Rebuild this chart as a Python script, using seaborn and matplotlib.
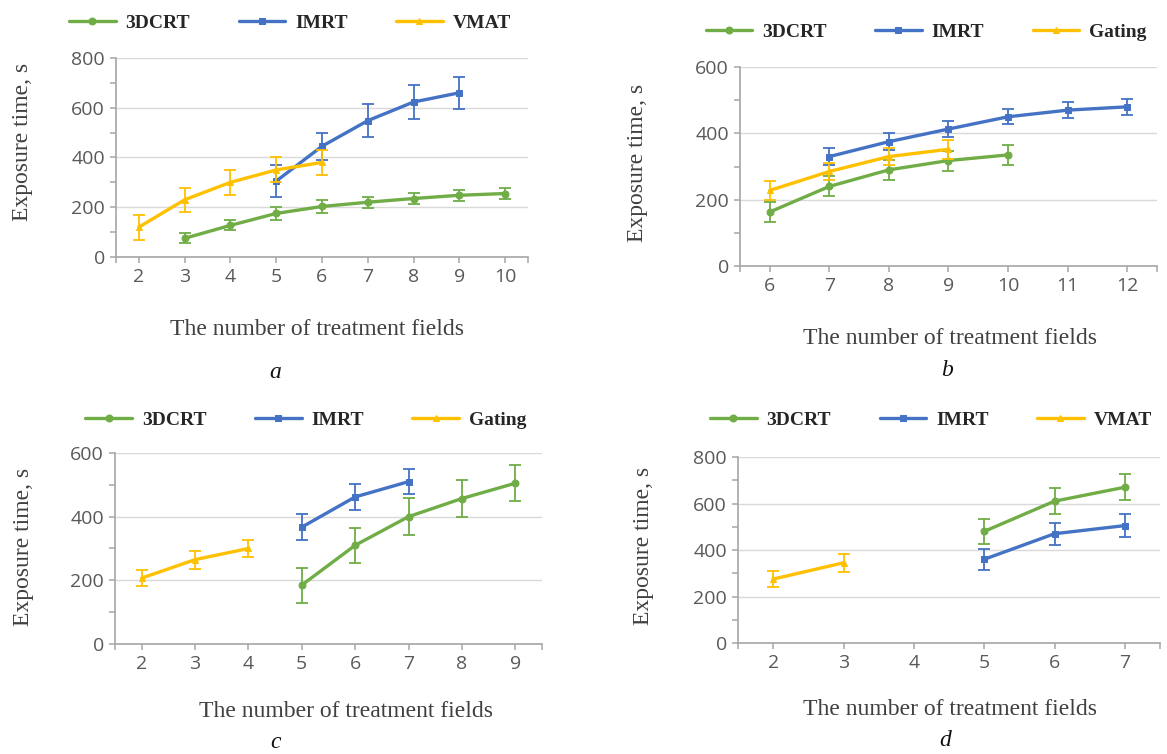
import matplotlib.pyplot as plt
import seaborn as sns

sns.set_style("white")
plt.rcParams['font.family'] = ['Liberation Serif', 'DejaVu Serif']

GREEN = "#70AD47"
BLUE = "#4472C4"
YELLOW = "#FFC000"

# -----------------------------
# Data
# -----------------------------
# panel a
a_3dcrt_x = [3, 4, 5, 6, 7, 8, 9, 10]
a_3dcrt_y = [75, 127, 175, 203, 220, 235, 248, 255]
a_3dcrt_err = [20, 20, 25, 25, 22, 22, 22, 22]
a_imrt_x = [5, 6, 7, 8, 9]
a_imrt_y = [305, 445, 548, 623, 660]
a_imrt_err = [65, 55, 67, 67, 65]
a_vmat_x = [2, 3, 4, 5, 6]
a_vmat_y = [120, 230, 300, 350, 380]
a_vmat_err = [50, 48, 50, 50, 50]

# panel b
b_3dcrt_x = [6, 7, 8, 9, 10]
b_3dcrt_y = [163, 240, 290, 318, 335]
b_3dcrt_err = [30, 30, 30, 30, 30]
b_imrt_x = [7, 8, 9, 10, 11, 12]
b_imrt_y = [330, 375, 413, 450, 470, 480]
b_imrt_err = [25, 25, 25, 22, 25, 25]
b_gating_x = [6, 7, 8, 9]
b_gating_y = [228, 285, 330, 352]
b_gating_err = [28, 25, 25, 28]

# panel c
c_3dcrt_x = [5, 6, 7, 8, 9]
c_3dcrt_y = [185, 310, 400, 457, 505]
c_3dcrt_err = [55, 55, 58, 58, 57]
c_imrt_x = [5, 6, 7]
c_imrt_y = [367, 462, 510]
c_imrt_err = [40, 40, 40]
c_gating_x = [2, 3, 4]
c_gating_y = [207, 265, 300]
c_gating_err = [25, 28, 28]

# panel d
d_3dcrt_x = [5, 6, 7]
d_3dcrt_y = [480, 610, 670]
d_3dcrt_err = [55, 55, 55]
d_imrt_x = [5, 6, 7]
d_imrt_y = [360, 470, 505]
d_imrt_err = [45, 48, 48]
d_vmat_x = [2, 3]
d_vmat_y = [275, 345]
d_vmat_err = [35, 38]

XLABEL = "The number of treatment fields"
YLABEL = "Exposure time, s"


# -----------------------------
# One panel
# -----------------------------
def draw_panel(ax, series, xcats, ymax, legend_xy, xlabel_xy, ylabel_xy):
    for name, x, y, err, color, marker in series:
        sns.lineplot(x=x, y=y, ax=ax, color=color, marker=marker, markersize=5,
                     markeredgecolor=color, linewidth=2.4, label=name)
        ax.errorbar(x, y, yerr=err, fmt='none', ecolor=color, elinewidth=1.3,
                    capsize=4, capthick=1.3)
    lo, hi = xcats[0] - 0.5, xcats[-1] + 0.5
    ax.set_xlim(lo, hi)
    ax.set_ylim(0, ymax)
    ax.set_xticks(xcats)
    ax.set_xticks([lo, hi], minor=True)
    ax.set_yticks(range(0, ymax + 1, 200))
    ax.set_yticks(range(100, ymax, 200), minor=True)
    ax.grid(axis='y', color='#d9d9d9', linewidth=1)
    ax.set_axisbelow(True)
    for side in ['top', 'right']:
        ax.spines[side].set_visible(False)
    for side in ['left', 'bottom']:
        ax.spines[side].set_color('#a6a6a6')
        ax.spines[side].set_linewidth(1.2)
    ax.tick_params(axis='both', which='both', direction='out', color='#a6a6a6',
                   length=4, width=1.1, labelcolor='#595959', labelsize=14, pad=4)
    ax.tick_params(axis='y', which='both', left=True)
    ax.tick_params(axis='x', which='both', bottom=True)
    for lab in ax.get_xticklabels() + ax.get_yticklabels():
        lab.set_family(['Open Sans', 'DejaVu Sans'])

    ax.set_xlabel(XLABEL, fontsize=17, color='#404040')
    ax.xaxis.set_label_coords(*xlabel_xy)
    ax.xaxis.label.set_va('center')
    ax.set_ylabel(YLABEL, fontsize=17, color='#404040')
    ax.yaxis.set_label_coords(*ylabel_xy)
    ax.yaxis.label.set_va('center')

    ax.legend(loc='center', bbox_to_anchor=legend_xy, ncol=3,
              frameon=False, columnspacing=2.5, handlelength=2.4,
              handletextpad=0.5, borderaxespad=0, borderpad=0,
              prop={'family': 'Liberation Serif', 'weight': 'bold', 'size': 14})


fig = plt.figure(figsize=(11.67, 7.54), dpi=100)

ax_a = fig.add_axes([0.0994, 0.6592, 0.3530, 0.2639])
ax_b = fig.add_axes([0.6341, 0.6472, 0.3573, 0.2639])
ax_c = fig.add_axes([0.0985, 0.1459, 0.3659, 0.2533])
ax_d = fig.add_axes([0.6324, 0.1472, 0.3616, 0.2467])

draw_panel(ax_a, [
    ("3DCRT", a_3dcrt_x, a_3dcrt_y, a_3dcrt_err, GREEN, 'o'),
    ("IMRT", a_imrt_x, a_imrt_y, a_imrt_err, BLUE, 's'),
    ("VMAT", a_vmat_x, a_vmat_y, a_vmat_err, YELLOW, '^'),
], list(range(2, 11)), 800,
    legend_xy=(0.422, 1.176), xlabel_xy=(0.488, -0.367), ylabel_xy=(-0.226, 0.58))

draw_panel(ax_b, [
    ("3DCRT", b_3dcrt_x, b_3dcrt_y, b_3dcrt_err, GREEN, 'o'),
    ("IMRT", b_imrt_x, b_imrt_y, b_imrt_err, BLUE, 's'),
    ("Gating", b_gating_x, b_gating_y, b_gating_err, YELLOW, '^'),
], list(range(6, 13)), 600,
    legend_xy=(0.446, 1.176), xlabel_xy=(0.504, -0.362), ylabel_xy=(-0.245, 0.52))

draw_panel(ax_c, [
    ("3DCRT", c_3dcrt_x, c_3dcrt_y, c_3dcrt_err, GREEN, 'o'),
    ("IMRT", c_imrt_x, c_imrt_y, c_imrt_err, BLUE, 's'),
    ("Gating", c_gating_x, c_gating_y, c_gating_err, YELLOW, '^'),
], list(range(2, 10)), 600,
    legend_xy=(0.447, 1.173), xlabel_xy=(0.541, -0.356), ylabel_xy=(-0.215, 0.51))

draw_panel(ax_d, [
    ("3DCRT", d_3dcrt_x, d_3dcrt_y, d_3dcrt_err, GREEN, 'o'),
    ("IMRT", d_imrt_x, d_imrt_y, d_imrt_err, BLUE, 's'),
    ("VMAT", d_vmat_x, d_vmat_y, d_vmat_err, YELLOW, '^'),
], list(range(2, 8)), 800,
    legend_xy=(0.457, 1.199), xlabel_xy=(0.502, -0.360), ylabel_xy=(-0.225, 0.52))

for letter, x, y in [("a", 275, 373), ("b", 947, 370),
                     ("c", 276, 743), ("d", 945, 741)]:
    fig.text(x / 1167, 1 - y / 754, letter, ha='center', va='center',
             style='italic', fontsize=17, color='#111111')

fig.savefig("out.png", dpi=100)
